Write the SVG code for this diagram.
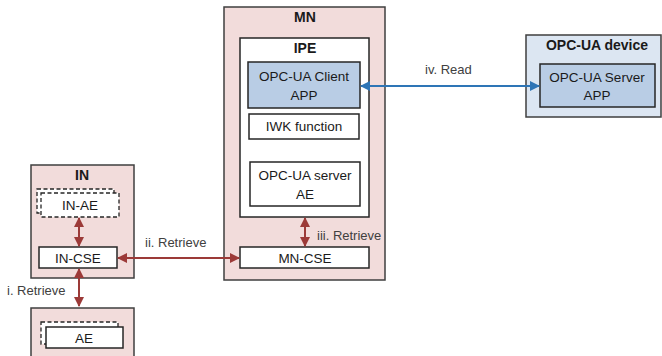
<svg xmlns="http://www.w3.org/2000/svg" width="662" height="356" viewBox="0 0 662 356">
<defs>
<style>
.node{fill:#f2dcdb;stroke:#3f3f3f;stroke-width:1.5}
.white{fill:#ffffff;stroke:#262626;stroke-width:1.5}
.dash{fill:#ffffff;stroke:#262626;stroke-width:1.3;stroke-dasharray:4 2.5}
.blue{fill:#b9cde5;stroke:#262626;stroke-width:1.5}
.dev{fill:#dce6f2;stroke:#3f3f3f;stroke-width:1.5}
text{font-family:"Liberation Sans",Arial,sans-serif;fill:#1a1a1a;text-anchor:middle}
.t{font-size:13.5px}
.b{font-size:14px;font-weight:bold}
.lbl{font-size:13px;fill:#404040;text-anchor:start}
.red{stroke:#9c3a38;stroke-width:2;fill:none}
.bl{stroke:#2e75b6;stroke-width:2;fill:none}
</style>
<marker id="ar" viewBox="0 0 10 10" refX="9" refY="5" markerWidth="5" markerHeight="5" orient="auto-start-reverse" markerUnits="strokeWidth">
<path d="M0,0 L10,5 L0,10 z" fill="#9c3a38"/>
</marker>
<marker id="ab" viewBox="0 0 10 10" refX="9" refY="5" markerWidth="5" markerHeight="5" orient="auto-start-reverse" markerUnits="strokeWidth">
<path d="M0,0 L10,5 L0,10 z" fill="#2e75b6"/>
</marker>
</defs>

<g id="IN">
<rect class="node" x="31" y="165" width="103" height="113"/>
<text class="b" x="82" y="180">IN</text>
</g>
<g id="IN-AE">
<rect class="dash" x="37" y="189" width="77" height="24"/>
<rect class="dash" x="41" y="193" width="78" height="24"/>
<text class="t" x="80" y="210">IN-AE</text>
</g>
<g id="IN-CSE">
<rect class="white" x="39" y="247" width="78" height="21"/>
<text class="t" x="78" y="263">IN-CSE</text>
</g>

<g id="AE-node">
<rect class="node" x="31" y="308" width="103" height="60"/>
</g>
<g id="AE">
<rect class="dash" x="41" y="322" width="77" height="22"/>
<rect class="white" x="46" y="327" width="77" height="21"/>
<text class="t" x="84" y="343">AE</text>
</g>

<g id="MN">
<rect class="node" x="224" y="7" width="161" height="273"/>
<text class="b" x="305" y="22">MN</text>
</g>
<g id="IPE">
<rect class="white" x="240" y="38" width="129" height="179"/>
<text class="b" x="305" y="53">IPE</text>
</g>
<g id="OPC-UA-Client-APP">
<rect class="blue" x="248" y="62" width="112" height="46"/>
<text class="t" x="304" y="81">OPC-UA Client</text>
<text class="t" x="304" y="100">APP</text>
</g>
<g id="IWK-function">
<rect class="white" x="249" y="114" width="110" height="25"/>
<text class="t" x="304" y="131">IWK function</text>
</g>
<g id="OPC-UA-server-AE">
<rect class="white" x="250" y="162" width="110" height="44"/>
<text class="t" x="305" y="180">OPC-UA server</text>
<text class="t" x="305" y="199">AE</text>
</g>
<g id="MN-CSE">
<rect class="white" x="240" y="247" width="129" height="21"/>
<text class="t" x="305" y="263">MN-CSE</text>
</g>

<g id="OPC-UA-device">
<rect class="dev" x="526" y="35" width="135" height="82"/>
<text class="b" x="597" y="50">OPC-UA device</text>
</g>
<g id="OPC-UA-Server-APP">
<rect class="blue" x="540" y="64" width="115" height="43"/>
<text class="t" x="597" y="82">OPC-UA Server</text>
<text class="t" x="597" y="100">APP</text>
</g>

<g id="connectors">
<line class="red" x1="79" y1="218" x2="79" y2="246" marker-start="url(#ar)" marker-end="url(#ar)"/>
<line class="red" x1="79" y1="269" x2="79" y2="306" marker-start="url(#ar)" marker-end="url(#ar)"/>
<line class="red" x1="118" y1="258" x2="239" y2="258" marker-start="url(#ar)" marker-end="url(#ar)"/>
<line class="red" x1="305" y1="218" x2="305" y2="246" marker-start="url(#ar)" marker-end="url(#ar)"/>
<line class="bl" x1="361" y1="86" x2="539" y2="86" marker-start="url(#ab)" marker-end="url(#ab)"/>
<text class="lbl" x="7" y="295">i. Retrieve</text>
<text class="lbl" x="145" y="247">ii. Retrieve</text>
<text class="lbl" x="317" y="240">iii. Retrieve</text>
<text class="lbl" x="425" y="74">iv. Read</text>
</g>
</svg>
